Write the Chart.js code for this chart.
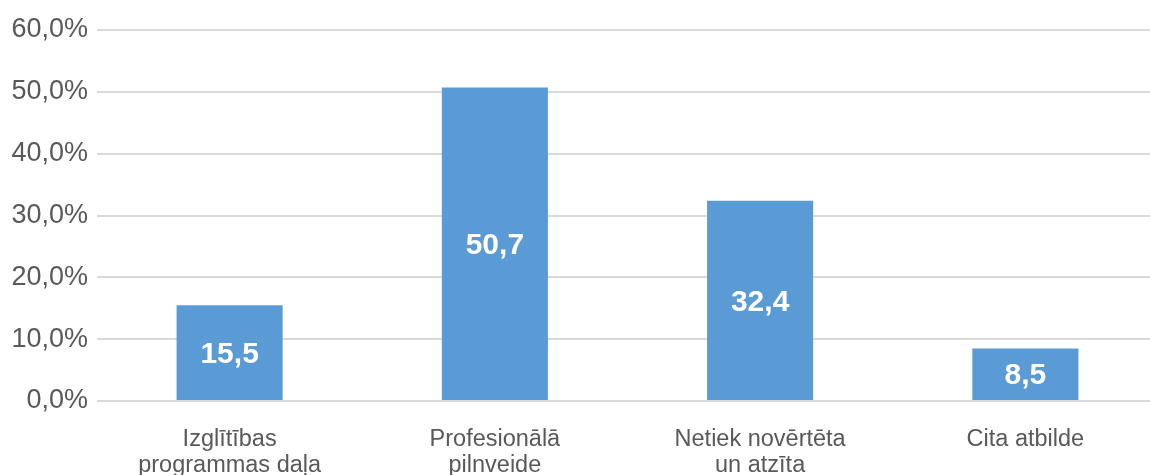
<!DOCTYPE html>
<html>
<head>
<meta charset="utf-8">
<script src="https://cdn.jsdelivr.net/npm/chart.js@4"></script>
<style>
  html, body { margin: 0; padding: 0; background: #fff; overflow: hidden; }
  #wrap { width: 1158px; height: 475px; }
</style>
</head>
<body>
<div id="wrap"><canvas id="barChart"></canvas></div>
<script>
// kategorijas un vērtības (%)
const categories = [
  ["Izglītības", "programmas daļa"],
  ["Profesionālā", "pilnveide"],
  ["Netiek novērtēta", "un atzīta"],
  ["Cita atbilde"]
];
const values = [15.5, 50.7, 32.4, 8.5];
const yTicks = [0, 10, 20, 30, 40, 50, 60];

const fmt = v => v.toFixed(1).replace(".", ",");

// vērtību uzraksti joslu vidū
const barLabels = {
  id: "barLabels",
  afterDatasetsDraw(chart) {
    const ctx = chart.ctx;
    const meta = chart.getDatasetMeta(0);
    ctx.save();
    ctx.fillStyle = "#ffffff";
    ctx.font = "bold 30px 'Liberation Sans', Arial, sans-serif";
    ctx.textAlign = "center";
    ctx.textBaseline = "middle";
    meta.data.forEach((bar, i) => {
      const y = (bar.y + bar.base) / 2;
      ctx.fillText(fmt(values[i]), bar.x, y + 2);
    });
    ctx.restore();
  }
};

new Chart(document.getElementById("barChart"), {
  type: "bar",
  data: {
    labels: categories,
    datasets: [{
      data: values,
      backgroundColor: "#5B9BD5",
      categoryPercentage: 1.0,
      barPercentage: 0.4
    }]
  },
  plugins: [barLabels],
  options: {
    responsive: true,
    maintainAspectRatio: false,
    animation: false,
    layout: { padding: { top: 30, left: 0, right: 0, bottom: 0 } },
    plugins: {
      legend: { display: false },
      tooltip: { enabled: false }
    },
    scales: {
      x: {
        grid: { display: false, drawTicks: false },
        border: { display: false },
        ticks: {
          color: "#595959",
          padding: 25,
          maxRotation: 0,
          autoSkip: false,
          font: { family: "'Liberation Sans', Arial, sans-serif", size: 23.5, lineHeight: 1.12 }
        },
        afterFit(scale) { scale.height = 74; }
      },
      y: {
        min: 0,
        max: 60,
        afterBuildTicks(scale) { scale.ticks = yTicks.map(v => ({ value: v })); },
        grid: { color: "#D9D9D9", lineWidth: 2, drawTicks: false },
        border: { display: false },
        ticks: {
          color: "#595959",
          padding: 9,
          font: { family: "'Liberation Sans', Arial, sans-serif", size: 27 },
          callback: v => fmt(v) + "%"
        },
        afterFit(scale) { scale.width = 97; }
      }
    }
  }
});
</script>
</body>
</html>
